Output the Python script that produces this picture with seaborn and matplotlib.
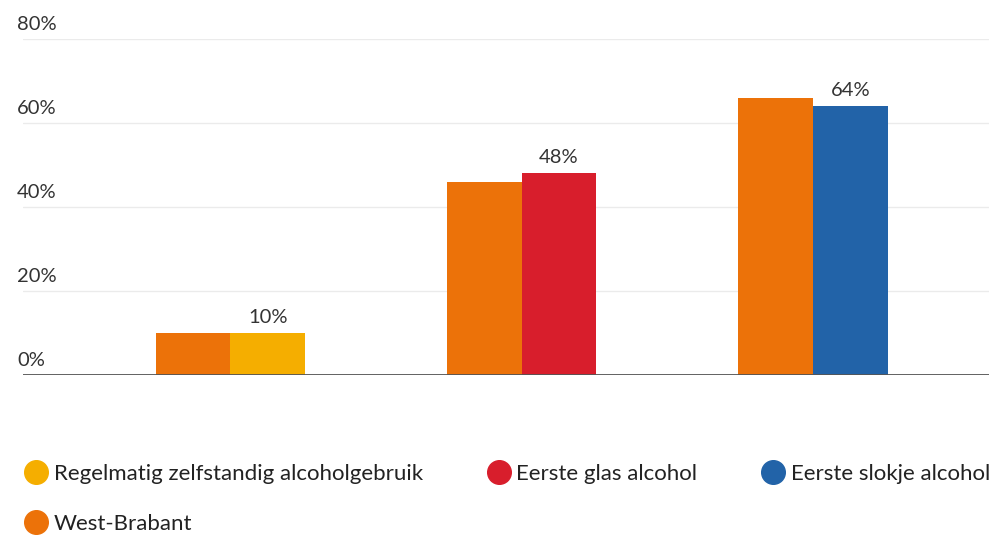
import pandas as pd
import matplotlib.pyplot as plt
import matplotlib.transforms as mtransforms
from matplotlib.lines import Line2D
import seaborn as sns

# Data
indicators = ["Regelmatig zelfstandig alcoholgebruik", "Eerste glas alcohol", "Eerste slokje alcohol"]
west_brabant = [10, 46, 66]
comparison = [10, 48, 64]
comparison_labels = ["10%", "48%", "64%"]
y_ticks = [0, 20, 40, 60, 80]

orange = "#EC7209"
indicator_colors = ["#F5AE00", "#D81E2C", "#2263A8"]

df = pd.DataFrame({
    "Indicator": indicators * 2,
    "Waarde": west_brabant + comparison,
    "Groep": ["West-Brabant"] * 3 + ["Indicator"] * 3,
})

sns.set_style("white")
plt.rcParams["font.family"] = ["Lato", "DejaVu Sans"]

fig = plt.figure(figsize=(10.05, 5.36), dpi=100)
ax = fig.add_axes([23 / 1005, 1 - 375 / 536, 966 / 1005, 336 / 536])

sns.barplot(
    data=df, x="Indicator", y="Waarde", hue="Groep",
    hue_order=["West-Brabant", "Indicator"],
    palette=[orange, "#999999"], width=0.512, gap=0,
    saturation=1, legend=False, linewidth=0, ax=ax,
)

# color the comparison bars per indicator and label them
for patch, color in zip(ax.containers[1], indicator_colors):
    patch.set_facecolor(color)
ax.bar_label(ax.containers[1], labels=comparison_labels, padding=5,
             fontsize=14.5, color="#333333")

ax.set_ylim(0, 80)
ax.set_xlim(-0.712, 2.604)
ax.set_xticks([])
ax.set_yticks(y_ticks)
ax.set_yticklabels([])
ax.tick_params(left=False, bottom=False)
ax.set_xlabel("")
ax.set_ylabel("")

for y in y_ticks[1:]:
    ax.axhline(y, color="#EBEBEB", lw=1, zorder=0)
ax.axhline(0, color="#555555", lw=1.3, zorder=3)

for s in ax.spines.values():
    s.set_visible(False)

# y tick labels sit above the gridlines, left aligned
trans = mtransforms.blended_transform_factory(fig.transFigure, ax.transData)
offset = mtransforms.ScaledTranslation(0, 6 / 100, fig.dpi_scale_trans)
for y in y_ticks:
    ax.text(17 / 1005, y, f"{y}%", transform=trans + offset, ha="left",
            va="bottom", fontsize=14.5, color="#333333")

# legend
handles = [
    Line2D([], [], marker="o", ls="", markersize=17, color=indicator_colors[0]),
    Line2D([], [], marker="o", ls="", markersize=17, color=orange),
    Line2D([], [], marker="o", ls="", markersize=17, color=indicator_colors[1]),
    Line2D([], [], marker="o", ls="", markersize=17, color=indicator_colors[2]),
]
labels = [indicators[0], "West-Brabant", indicators[1], indicators[2]]
fig.legend(handles, labels, ncol=3, loc="upper left",
           bbox_to_anchor=(14 / 1005, 1 - 455 / 536), frameon=False,
           fontsize=16, handletextpad=0.2, handlelength=1.2,
           columnspacing=2.8, labelspacing=1.35, borderaxespad=0,
           labelcolor="#222222")

plt.savefig("out.png", dpi=100)
plt.close()
